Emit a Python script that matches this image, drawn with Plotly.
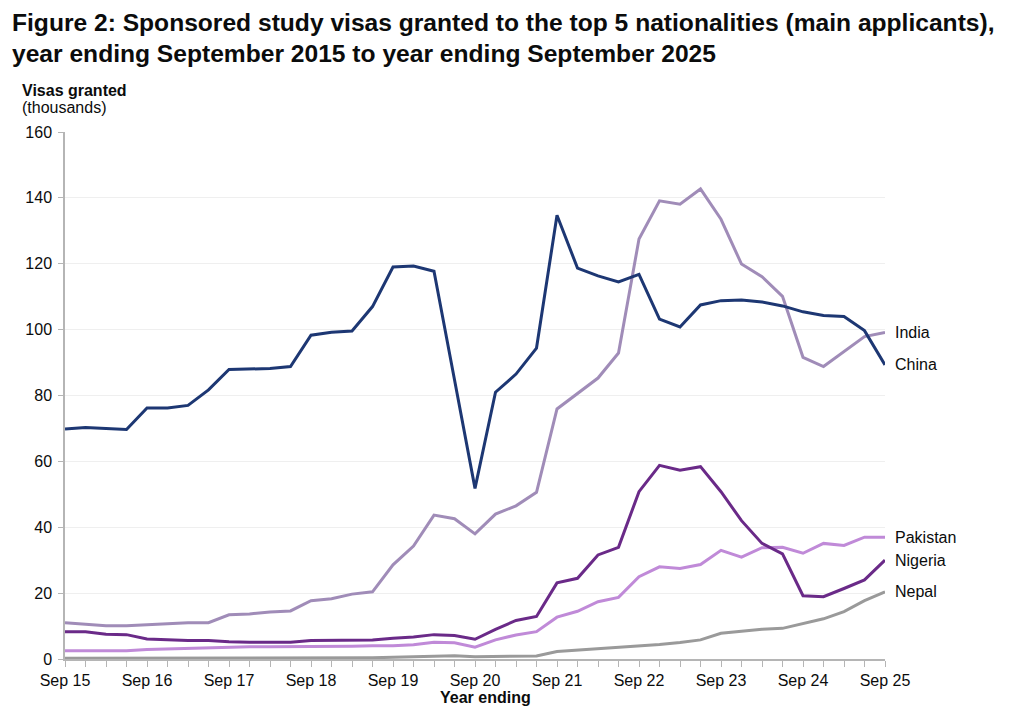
import plotly.graph_objects as go

quarters = list(range(41))
tick_positions = [0, 4, 8, 12, 16, 20, 24, 28, 32, 36, 40]
tick_labels = ["Sep 15", "Sep 16", "Sep 17", "Sep 18", "Sep 19", "Sep 20",
               "Sep 21", "Sep 22", "Sep 23", "Sep 24", "Sep 25"]

china = [69.8, 70.3, 70.0, 69.7, 76.2, 76.2, 77.0, 81.7, 87.9, 88.0, 88.2, 88.8,
         98.3, 99.2, 99.6, 107.0, 119.0, 119.3, 117.7, 84.8, 51.8, 81.0, 86.5, 94.4,
         134.7, 118.7, 116.3, 114.5, 116.8, 103.2, 100.8, 107.5, 108.8, 109.0, 108.4,
         107.2, 105.4, 104.3, 104.0, 99.7, 89.3]
india = [11.0, 10.5, 10.1, 10.1, 10.5, 10.7, 11.0, 11.0, 13.4, 13.7, 14.3, 14.6,
         17.7, 18.3, 19.7, 20.4, 28.6, 34.3, 43.7, 42.6, 38.0, 44.0, 46.5, 50.6,
         75.9, 80.7, 85.3, 92.9, 127.5, 139.1, 138.1, 142.7, 133.5, 119.9, 116.1,
         110.1, 91.6, 88.8, 93.3, 97.9, 99.1]
nigeria = [8.3, 8.3, 7.5, 7.4, 6.1, 5.8, 5.6, 5.6, 5.2, 5.1, 5.1, 5.1, 5.6, 5.6,
           5.8, 5.8, 6.3, 6.7, 7.4, 7.1, 6.0, 9.0, 11.7, 12.9, 23.1, 24.5, 31.6,
           33.9, 50.8, 58.8, 57.3, 58.4, 50.8, 42.0, 35.1, 31.9, 19.2, 18.9, 21.4,
           24.0, 30.0]
pakistan = [2.5, 2.5, 2.4, 2.5, 2.9, 3.1, 3.3, 3.3, 3.7, 3.7, 3.7, 3.7, 3.9, 3.9,
            3.9, 4.0, 4.0, 4.3, 5.1, 4.9, 3.6, 5.8, 7.3, 8.3, 12.7, 14.5, 17.4,
            18.7, 25.0, 28.0, 27.5, 28.7, 33.0, 30.9, 33.8, 33.9, 32.1, 35.1, 34.5,
            37.0, 37.0]
nepal = [0.2, 0.2, 0.2, 0.2, 0.2, 0.2, 0.2, 0.2, 0.2, 0.2, 0.2, 0.2, 0.3, 0.3,
         0.4, 0.4, 0.5, 0.7, 1.0, 1.0, 0.7, 0.8, 0.8, 0.9, 2.3, 2.7, 3.2, 3.5,
         3.9, 4.4, 5.0, 5.8, 7.8, 8.5, 9.0, 9.3, 10.8, 12.2, 14.4, 17.7, 20.4]

series = [
    ("Nepal", nepal, "#9a9a9a"),
    ("Pakistan", pakistan, "#c08ad8"),
    ("Nigeria", nigeria, "#6a2a88"),
    ("India", india, "#a08cb8"),
    ("China", china, "#1d3773"),
]

title_line1 = "Figure 2: Sponsored study visas granted to the top 5 nationalities (main applicants),"
title_line2 = "year ending September 2015 to year ending September 2025"

FONT = "Liberation Sans, Arial, sans-serif"
TXT = "#0b0c0c"
fig = go.Figure()
for name, vals, col in series:
    fig.add_trace(go.Scatter(x=quarters, y=vals, mode="lines", name=name,
                             line=dict(color=col, width=3), showlegend=False))
    fig.add_annotation(x=quarters[-1], y=vals[-1], xref="x", yref="y",
                       text=name, showarrow=False, xanchor="left", yanchor="middle",
                       xshift=8, font=dict(family=FONT, size=16, color=TXT))

# plot area: x 65..885, y 132..659 in page pixels
def px(xp):
    return (xp - 65) / 820.0

def py(yp):
    return (659 - yp) / 527.0

fig.add_annotation(xref="paper", yref="paper", x=px(10), y=py(22), text="<b>" + title_line1 + "</b>",
                   showarrow=False, xanchor="left", yanchor="middle",
                   font=dict(family=FONT, size=24.6, color=TXT))
fig.add_annotation(xref="paper", yref="paper", x=px(10), y=py(53), text="<b>" + title_line2 + "</b>",
                   showarrow=False, xanchor="left", yanchor="middle",
                   font=dict(family=FONT, size=24.6, color=TXT))
fig.add_annotation(xref="paper", yref="paper", x=px(20), y=py(90), text="<b>Visas granted</b>",
                   showarrow=False, xanchor="left", yanchor="middle",
                   font=dict(family=FONT, size=16, color=TXT))
fig.add_annotation(xref="paper", yref="paper", x=px(20), y=py(108), text="(thousands)",
                   showarrow=False, xanchor="left", yanchor="middle",
                   font=dict(family=FONT, size=16, color=TXT))
fig.add_annotation(xref="paper", yref="paper", x=px(485), y=py(697), text="<b>Year ending</b>",
                   showarrow=False, xanchor="center", yanchor="middle",
                   font=dict(family=FONT, size=16, color=TXT))

# page body has an 8px margin, so the figure is offset by 8px
fig.update_layout(
    width=1024, height=726,
    margin=dict(l=57, r=147, t=124, b=75),
    paper_bgcolor="white", plot_bgcolor="white",
)
fig.update_xaxes(range=[0, 40], tickvals=tick_positions, ticktext=tick_labels,
                 showgrid=False, showline=True, linecolor="#b5b5b5", linewidth=1.5,
                 ticks="outside", ticklen=6, tickcolor="#b5b5b5",
                 minor=dict(dtick=1, ticks="outside", ticklen=6, tickcolor="#b5b5b5", showgrid=False),
                 tickfont=dict(family=FONT, size=16, color=TXT), zeroline=False)
fig.update_yaxes(range=[0, 160], dtick=20, showgrid=True, gridcolor="#efefef",
                 showline=True, linecolor="#b5b5b5", linewidth=1.5,
                 ticks="outside", ticklen=5, tickcolor="#b5b5b5", ticklabelstandoff=3,
                 tickfont=dict(family=FONT, size=16, color=TXT), zeroline=False)

fig.write_html("out.html")
